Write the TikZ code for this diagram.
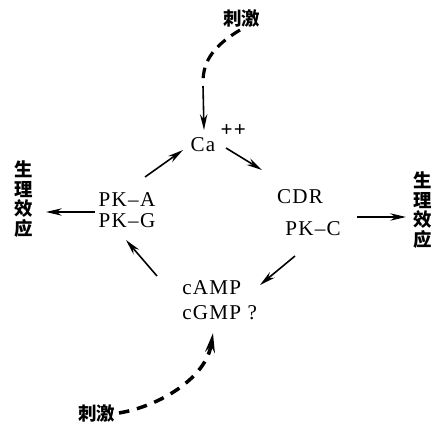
\documentclass[tikz,border=0pt]{standalone}
\usepackage{fontspec}
\setmainfont{Liberation Serif}
\newfontfamily\cjk{Noto Sans CJK SC}
\newfontfamily\lat[LetterSpace=6]{Liberation Serif}
\usetikzlibrary{arrows.meta}
\begin{document}
\begin{tikzpicture}[x=0.02cm,y=-0.02cm]
\tikzset{
 lbl/.style={font=\lat\fontsize{12}{12}\selectfont, inner sep=0},
 zh/.style={font=\cjk\bfseries\fontsize{10.5}{11.2}\selectfont, inner sep=0},
 arr/.style={line width=0.9pt, -{Stealth[length=9pt,width=4.2pt]}},
 dsh/.style={line width=1.8pt, dash pattern=on 6pt off 4pt},
 dshb/.style={line width=2pt, dash pattern=on 6pt off 4.5pt, -{Stealth[length=11pt,width=5.5pt]}},
}
\useasboundingbox (0,0) rectangle (434,427);
% nodes
\node[lbl, anchor=base] (ca) at (203,151) {Ca\rlap{\raisebox{1.5ex}{\hspace{0.25em}\textbf{++}}}};
\node[zh] (s1) at (242,18) {刺激};
\node[lbl] (cdr) at (300,197) {CDR};
\node[lbl] (pkc) at (313,229) {PK–C};
\node[lbl, align=center] (pk) at (127,210) {PK–A\\PK–G};
\node[lbl, align=left, anchor=west, font=\lat\fontsize{12}{14}\selectfont] (camp) at (182,300) {cAMP\\cGMP ?};
\node[zh, align=center] (el) at (24,199) {生\\理\\效\\应};
\node[zh, align=center] (er) at (423,210) {生\\理\\效\\应};
\node[zh] (s2) at (97,413) {刺激};
% connector end points
\coordinate (a1) at (240,30);
\coordinate (a2) at (203,82);
\coordinate (a3) at (203,86);
\coordinate (a4) at (204,130);
\coordinate (b1) at (226,148);
\coordinate (b2) at (262,170);
\coordinate (c1) at (145,177);
\coordinate (c2) at (183,150);
\coordinate (d1) at (95,212);
\coordinate (d2) at (46,212);
\coordinate (e1) at (357,217);
\coordinate (e2) at (406,217);
\coordinate (f1) at (157,276);
\coordinate (f2) at (126,240);
\coordinate (g1) at (295,256);
\coordinate (g2) at (260,285);
\coordinate (h1) at (119,413);
\coordinate (h2) at (213,333);
% connectors
\draw[dsh] (a1) .. controls (215,45) and (203,60) .. (a2);
\draw[arr] (a3) -- (a4);
\draw[arr] (b1) -- (b2);
\draw[arr] (c1) -- (c2);
\draw[arr] (d1) -- (d2);
\draw[arr] (e1) -- (e2);
\draw[arr] (f1) -- (f2);
\draw[arr] (g1) -- (g2);
\draw[dshb] (h1) .. controls (160,406) and (206,378) .. (h2);
\end{tikzpicture}
\end{document}
